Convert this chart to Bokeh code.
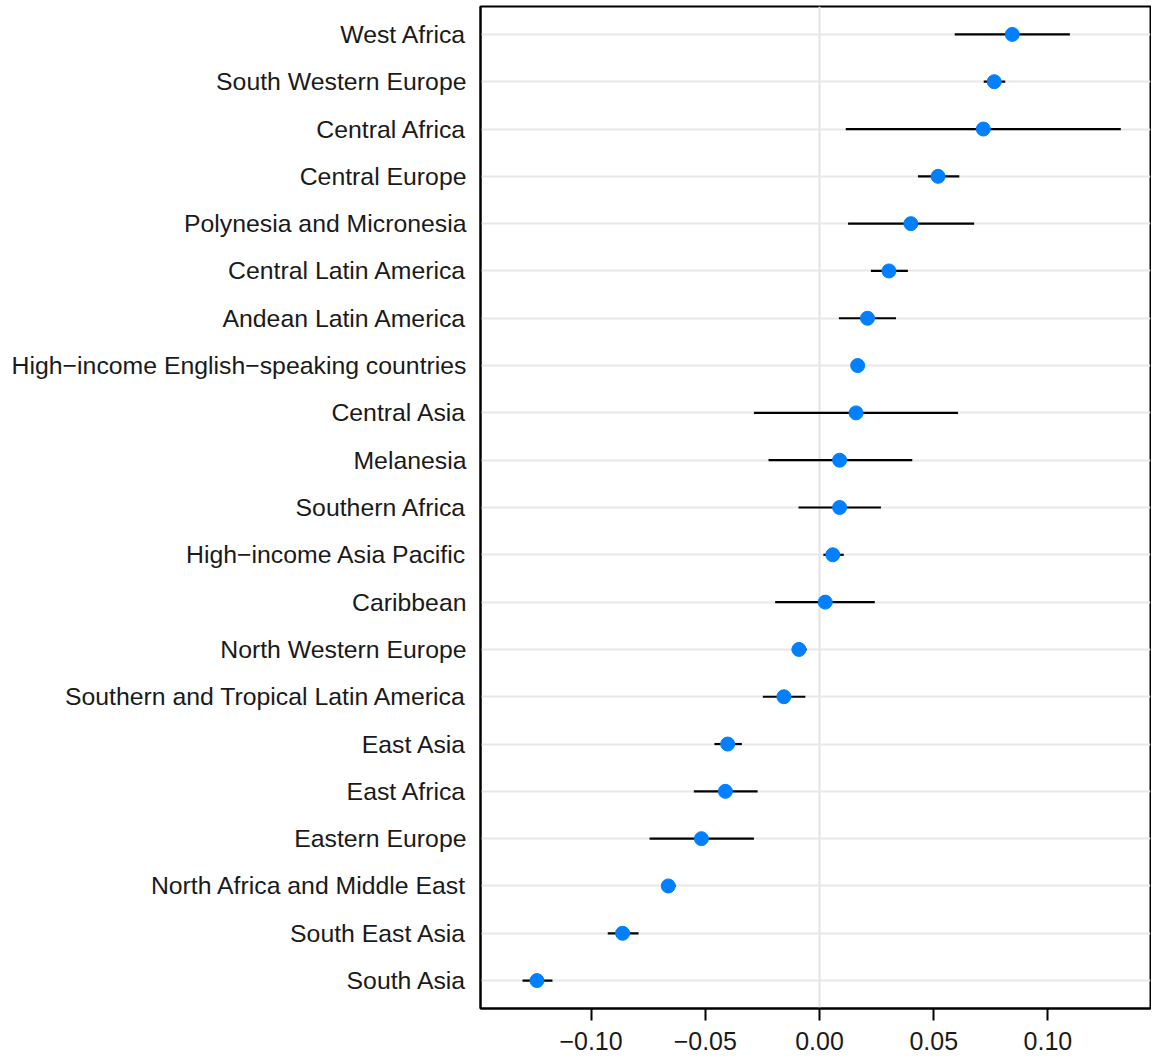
from bokeh.plotting import figure
from bokeh.models import FactorRange, Range1d, FixedTicker, ColumnDataSource
from bokeh.embed import file_html
from bokeh.resources import INLINE

regions = [
    "West Africa", "South Western Europe", "Central Africa", "Central Europe",
    "Polynesia and Micronesia", "Central Latin America", "Andean Latin America",
    "High\u2212income English\u2212speaking countries", "Central Asia", "Melanesia",
    "Southern Africa", "High\u2212income Asia Pacific", "Caribbean",
    "North Western Europe", "Southern and Tropical Latin America", "East Asia",
    "East Africa", "Eastern Europe", "North Africa and Middle East",
    "South East Asia", "South Asia",
]
estimate = [0.0844, 0.0765, 0.0717, 0.0519, 0.0400, 0.0304, 0.0210, 0.0167,
            0.0160, 0.0088, 0.0088, 0.0058, 0.0025, -0.0090, -0.0156, -0.0402,
            -0.0412, -0.0517, -0.0662, -0.0862, -0.1237]
lower = [0.0592, 0.0719, 0.0115, 0.0431, 0.0125, 0.0225, 0.0085, 0.0152,
         -0.0287, -0.0223, -0.0092, 0.0017, -0.0194, -0.0121, -0.0248, -0.0460,
         -0.0550, -0.0744, -0.0690, -0.0927, -0.1300]
upper = [0.1096, 0.0813, 0.1319, 0.0612, 0.0677, 0.0387, 0.0335, 0.0182,
         0.0606, 0.0406, 0.0269, 0.0106, 0.0242, -0.0056, -0.0062, -0.0340,
         -0.0271, -0.0287, -0.0629, -0.0792, -0.1169]

x_ticks = [-0.10, -0.05, 0.00, 0.05, 0.10]
x_tick_labels = ["\u22120.10", "\u22120.05", "0.00", "0.05", "0.10"]

src = ColumnDataSource(dict(region=regions, est=estimate, lo=lower, hi=upper))

p = figure(
    width=1151, height=1056,
    y_range=FactorRange(factors=list(reversed(regions)), range_padding=0.09,
                        range_padding_units="absolute"),
    x_range=Range1d(-0.1484, 0.1449),
    output_backend="svg", toolbar_location=None,
    min_border_left=480, min_border_right=1, min_border_top=6, min_border_bottom=48,
)

p.background_fill_color = "white"
p.border_fill_color = "white"
p.outline_line_color = "black"
p.outline_line_width = 2

# grids
p.ygrid.grid_line_color = "#e8e8e8"
p.ygrid.grid_line_width = 2
p.xgrid.ticker = FixedTicker(ticks=[0.0])
p.xgrid.grid_line_color = "#e3e3e3"
p.xgrid.grid_line_width = 2

# x axis
p.xaxis.ticker = FixedTicker(ticks=x_ticks)
p.xaxis.major_label_overrides = {t: l for t, l in zip(x_ticks, x_tick_labels)}
p.xaxis.major_tick_out = 12
p.xaxis.major_tick_in = 0
p.xaxis.major_tick_line_width = 2
p.xaxis.major_tick_line_color = "black"
p.xaxis.minor_tick_line_color = None
p.xaxis.axis_line_color = "black"
p.xaxis.axis_line_width = 2
p.xaxis.major_label_standoff = 11
p.xaxis.major_label_text_font = "Liberation Sans"
p.xaxis.major_label_text_font_size = "25px"
p.xaxis.major_label_text_color = "#1a1a1a"

# y axis
p.yaxis.major_tick_out = 0
p.yaxis.major_tick_in = 0
p.yaxis.minor_tick_line_color = None
p.yaxis.axis_line_color = "black"
p.yaxis.axis_line_width = 2
p.yaxis.major_label_standoff = 14
p.yaxis.major_label_text_font = "Liberation Sans"
p.yaxis.major_label_text_font_size = "24.8px"
p.yaxis.major_label_text_color = "#1a1a1a"

p.segment(x0="lo", x1="hi", y0="region", y1="region", source=src,
          line_color="black", line_width=2.2)
p.scatter(x="est", y="region", source=src, size=14, fill_color="#0080FF",
          line_color="#0080FF")

open("out.html", "w").write(file_html(p, INLINE))
